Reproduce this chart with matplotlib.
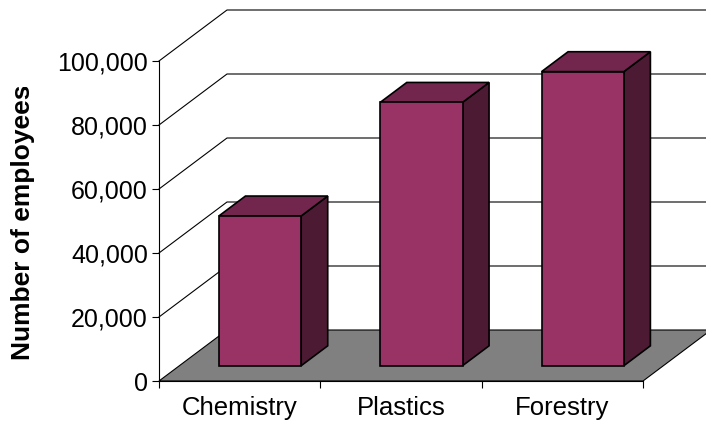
import matplotlib
matplotlib.use('Agg')
from matplotlib import pyplot as plt
from matplotlib.patches import Polygon
from matplotlib.ticker import FuncFormatter
from matplotlib.transforms import Bbox, TransformedBbox

categories = ['Chemistry', 'Plastics', 'Forestry']
employees = [46800, 82300, 91900]
y_ticks = [0, 20000, 40000, 60000, 80000, 100000]

# colours of the old 3D column look
front_col = '#993366'
top_col = '#73264d'
side_col = '#4d1a33'
floor_col = '#808080'

plt.rcParams['font.family'] = ['Liberation Sans', 'DejaVu Sans']

fig = plt.figure(figsize=(7.06, 4.23), dpi=100)
# front plane: x 0..3 -> px 159..643, y 0..100000 -> px 381..61
ax = fig.add_axes([159 / 706, 42 / 423, 547 / 706, 381 / 423])
n = len(categories)
ax.set_xlim(0, n * 547 / 484)
ax.set_ylim(0, 100000 * 381 / 320)

# depth offset of the back wall, in data units
DX = 68 / (484 / n)
DY = 51 / 320 * 100000
d0, dd = 0.30, 0.39   # where bars start in depth and how deep they are
w = 0.51

xmax = ax.get_xlim()[1]

# wall gridlines (side wall diagonal + back wall horizontal)
for v in y_ticks[1:]:
    ax.plot([0, DX, xmax], [v, v + DY, v + DY], color='black', lw=0.8,
            zorder=1, clip_on=False)

# floor
ax.add_patch(Polygon([(0, 0), (n, 0), (n + DX, DY), (DX, DY)], closed=True,
                     facecolor=floor_col, edgecolor='black', lw=0.8, zorder=2,
                     clip_on=False))

# bars
xs = [i + 0.5 - w / 2 + d0 * DX for i in range(n)]
base = d0 * DY
ax.bar(xs, employees, width=w, bottom=base, align='edge', color=front_col,
       edgecolor='black', lw=1.2, zorder=4)
for x, v in zip(xs, employees):
    ox, oy = dd * DX, dd * DY
    side = [(x + w, base), (x + w + ox, base + oy), (x + w + ox, base + v + oy),
            (x + w, base + v)]
    top = [(x, base + v), (x + w, base + v), (x + w + ox, base + v + oy),
           (x + ox, base + v + oy)]
    ax.add_patch(Polygon(side, closed=True, facecolor=side_col,
                         edgecolor='black', lw=1.2, zorder=3))
    ax.add_patch(Polygon(top, closed=True, facecolor=top_col,
                         edgecolor='black', lw=1.2, zorder=3))

# axes
for s in ['top', 'right']:
    ax.spines[s].set_visible(False)
ax.spines['left'].set_bounds(0, 100000)
ax.spines['bottom'].set_bounds(0, n)
ax.spines['left'].set_zorder(5)
ax.spines['bottom'].set_zorder(5)
ax.set_yticks(y_ticks)
ax.yaxis.set_major_formatter(FuncFormatter(lambda v, p: f'{int(v):,}'))
ax.set_xticks(range(n + 1))
ax.set_xticklabels([])
ax.set_xticks([i + 0.5 for i in range(n)], minor=True)
ax.set_xticklabels(categories, minor=True)
ax.tick_params(axis='x', which='minor', length=0, pad=11, labelsize=18.5)
ax.tick_params(axis='x', which='major', length=5, width=0.8)
ax.tick_params(axis='y', length=5, width=0.8, pad=3, labelsize=18)

lab = fig.text(23 / 706, 1 - 222 / 423, 'Number of employees', rotation=90,
               ha='center', va='center', fontsize=19, fontweight='bold',
               clip_on=True)
lab.set_clip_box(TransformedBbox(Bbox([[0, 0], [60 / 706, 1 - 87 / 423]]),
                                 fig.transFigure))

fig.savefig('out.png', dpi=100)
